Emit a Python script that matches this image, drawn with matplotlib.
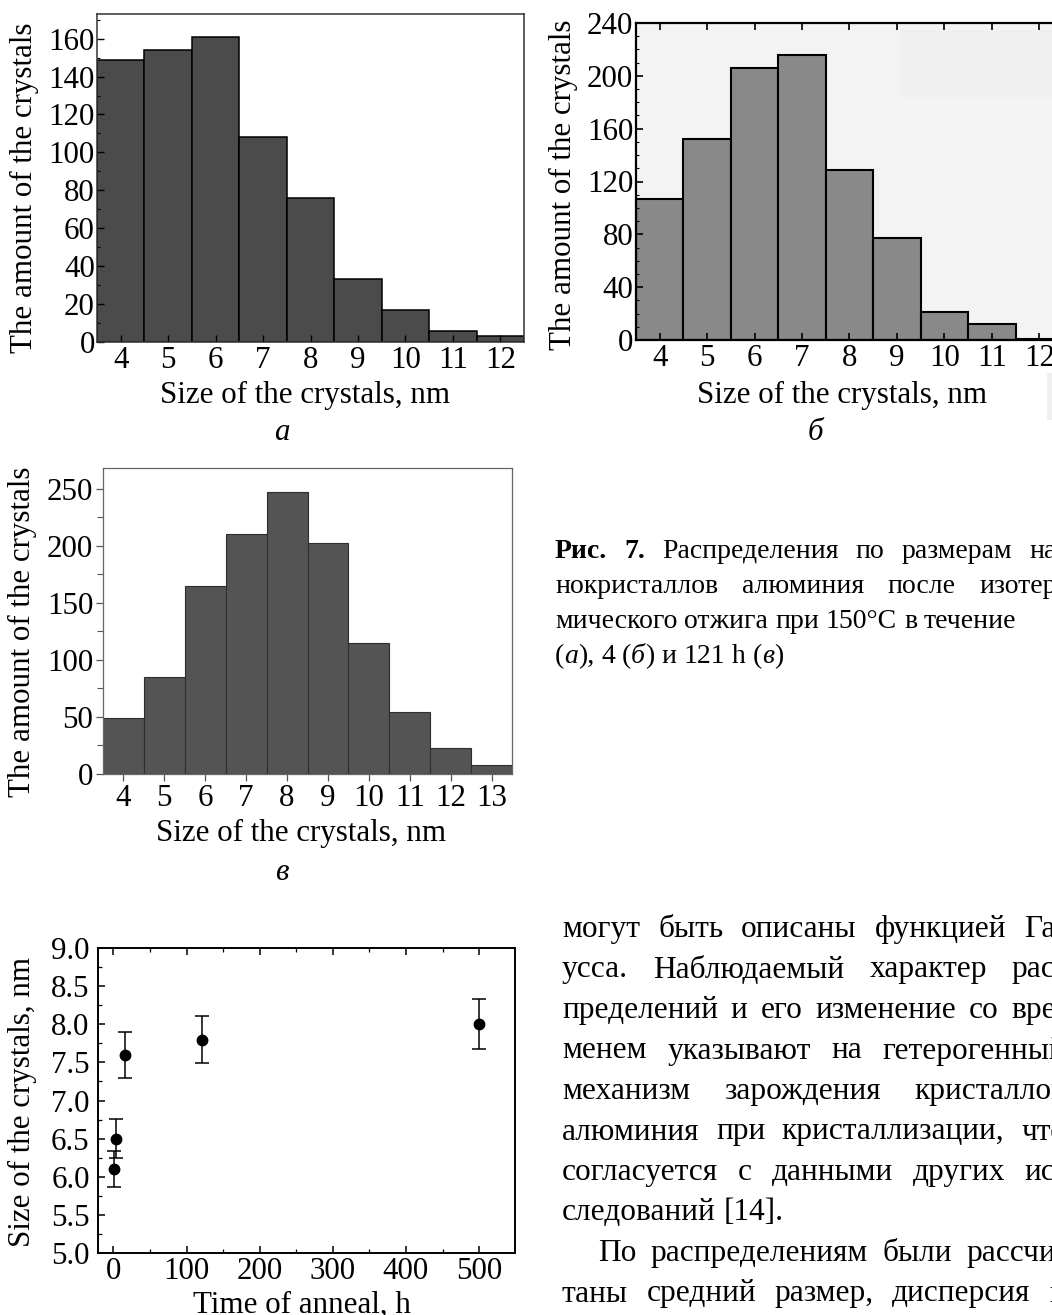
import matplotlib
matplotlib.use("Agg")
import matplotlib.pyplot as plt
from matplotlib.ticker import MultipleLocator, FormatStrFormatter
from matplotlib.patches import Rectangle

# page size in pixels
W, H = 1052, 1315

# crystal size histograms (counts per 1 nm bin)
sizes_a = [4, 5, 6, 7, 8, 9, 10, 11, 12]
counts_a = [149, 154, 161, 108, 76, 33, 17, 6, 3]

sizes_b = [4, 5, 6, 7, 8, 9, 10, 11, 12]
counts_b = [107, 152, 206, 216, 129, 77, 21, 12, 1]

sizes_c = [4, 5, 6, 7, 8, 9, 10, 11, 12, 13]
counts_c = [49, 85, 165, 210, 247, 202, 115, 54, 23, 8]

# mean crystal size vs. anneal time
anneal_time = [1, 4, 16, 121, 500]
mean_size = [6.1, 6.5, 7.6, 7.8, 8.0]
size_err = [0.24, 0.26, 0.30, 0.31, 0.33]

# text of the page
BOLD = {'weight': 'bold'}
ITAL = {'style': 'italic'}
caption_lines = [
    [[("Рис.", BOLD)], [("7.", BOLD)], "Распределения", "по", "размерам", "на-"],
    ["нокристаллов", "алюминия", "после", "изотер-"],
    ["мического", "отжига", "при", "150°С", "в", "течение"],
    [[("(", {}), ("а", ITAL), "),"], "4", [("(", {}), ("б", ITAL), ")"], "и", "121", "h",
     [("(", {}), ("в", ITAL), ")"]],
]
caption_justify = [True, True, False, False]

body_lines = [
    "могут быть описаны функцией Га-",
    "усса. Наблюдаемый характер рас-",
    "пределений и его изменение со вре-",
    "менем указывают на гетерогенный",
    "механизм зарождения кристаллов",
    "алюминия при кристаллизации, что",
    "согласуется с данными других ис-",
    "следований [14].",
    "По распределениям были рассчи-",
    "таны средний размер, дисперсия и",
]
body_justify = [True, True, True, True, True, True, True, False, True, True]

plt.rcParams['font.family'] = ['Liberation Serif', 'DejaVu Serif']

fig = plt.figure(figsize=(W / 100, H / 100), dpi=100)
fig.patch.set_facecolor('white')


def box(l, t, r, b):
    # axes from pixel edges (left, top, right, bottom)
    return fig.add_axes([l / W, 1 - b / H, (r - l) / W, (b - t) / H])


def at(x, y):
    # pixel position -> figure fraction
    return x / W, 1 - y / H


LABEL = 22.3
TICK = 22.3


def labels(ax, xlabel, ylabel, xpos, ypos):
    ax.set_xlabel(xlabel, fontsize=LABEL, va='center')
    ax.set_ylabel(ylabel, fontsize=LABEL, va='center')
    ax.xaxis.set_label_coords(*at(*xpos), transform=fig.transFigure)
    ax.yaxis.set_label_coords(*at(*ypos), transform=fig.transFigure)


# panel a
ax_a = box(97, 14, 524, 342)
ax_a.bar(sizes_a, counts_a, width=1.0, color='#4b4b4b', edgecolor='black', linewidth=1.1)
ax_a.set_xlim(3.5, 12.5)
ax_a.set_ylim(0, 173)
ax_a.set_xticks(sizes_a)
ax_a.yaxis.set_major_locator(MultipleLocator(20))
ax_a.yaxis.set_minor_locator(MultipleLocator(10))
ax_a.tick_params(direction='in', labelsize=TICK, length=5, width=1)
ax_a.tick_params(axis='x', pad=3)
ax_a.tick_params(axis='y', pad=1.5)
ax_a.tick_params(which='minor', direction='in', length=2.5, width=0.8)
for s in ax_a.spines.values():
    s.set_linewidth(1.1)
    s.set_color('#333333')
labels(ax_a, "Size of the crystals, nm", "The amount of the crystals", (305, 395), (24, 188))

# panel б (grey background, runs off the right edge of the page)
ax_b = box(636, 23, 1063, 340)
ax_b.set_facecolor('#f3f3f3')
ax_b.add_patch(Rectangle(at(900, 97), 160 / W, 67 / H, transform=fig.transFigure,
                         facecolor='#efefef', edgecolor='none', zorder=0.5))
ax_b.bar(sizes_b, counts_b, width=1.0, color='#898989', edgecolor='black', linewidth=1.5)
ax_b.set_xlim(3.5, 12.5)
ax_b.set_ylim(0, 240)
ax_b.set_xticks(sizes_b)
ax_b.yaxis.set_major_locator(MultipleLocator(40))
ax_b.yaxis.set_minor_locator(MultipleLocator(10))
ax_b.tick_params(direction='in', labelsize=TICK, length=5, width=1.2, top=True)
ax_b.tick_params(axis='x', pad=3)
ax_b.tick_params(axis='y', pad=2)
ax_b.tick_params(which='minor', direction='in', length=2.5, width=0.8)
for s in ax_b.spines.values():
    s.set_linewidth(1.6)
labels(ax_b, "Size of the crystals, nm", "The amount of the crystals", (842, 395), (563, 185))
# grey strip of the scanned page at the right edge
fig.patches.append(Rectangle(at(1047, 420), 5 / W, 47 / H, transform=fig.transFigure,
                             facecolor='#f0f0f0', edgecolor='none'))

# panel в
ax_c = box(103, 468, 512, 774)
ax_c.bar(sizes_c, counts_c, width=1.0, color='#545454', edgecolor='#2e2e2e', linewidth=0.8)
ax_c.set_xlim(3.5, 13.5)
ax_c.set_ylim(0, 268)
ax_c.set_xticks(sizes_c)
ax_c.yaxis.set_major_locator(MultipleLocator(50))
ax_c.yaxis.set_minor_locator(MultipleLocator(25))
ax_c.tick_params(direction='out', labelsize=TICK, length=5, width=0.9, color='#555555', pad=2)
ax_c.tick_params(which='minor', direction='out', length=4, width=0.8, color='#555555')
for s in ax_c.spines.values():
    s.set_linewidth(0.9)
    s.set_color('#666666')
labels(ax_c, "Size of the crystals, nm", "The amount of the crystals", (301, 833), (22, 632))

# panel letters
fig.text(*at(282, 432), "а", fontsize=LABEL, style='italic', ha='center', va='center')
fig.text(*at(815, 432), "б", fontsize=LABEL, style='italic', ha='center', va='center')
fig.text(*at(282, 872), "в", fontsize=LABEL, style='italic', ha='center', va='center')

# mean size vs. anneal time
ax_d = box(98, 948, 515, 1253)
ax_d.errorbar(anneal_time, mean_size, yerr=size_err, fmt='o', color='black', ms=7.5,
              elinewidth=1.1, capsize=4.7, capthick=1.1)
ax_d.set_xlim(-21, 549)
ax_d.set_ylim(5.0, 9.0)
ax_d.xaxis.set_major_locator(MultipleLocator(100))
ax_d.xaxis.set_minor_locator(MultipleLocator(50))
ax_d.yaxis.set_major_locator(MultipleLocator(0.5))
ax_d.yaxis.set_minor_locator(MultipleLocator(0.25))
ax_d.yaxis.set_major_formatter(FormatStrFormatter('%.1f'))
ax_d.tick_params(direction='in', labelsize=TICK, length=5, width=1.1, top=True)
ax_d.tick_params(axis='x', pad=3)
ax_d.tick_params(axis='y', pad=6)
ax_d.tick_params(which='minor', direction='in', length=3, width=0.9, top=True)
for s in ax_d.spines.values():
    s.set_linewidth(1.4)
labels(ax_d, "Time of anneal, h", "Size of the crystals, nm", (302, 1305), (22, 1102))

# text blocks, justified by hand
renderer = fig.canvas.get_renderer()


def draw_line(words, x0, y, size, x1=None):
    groups, widths = [], []
    for word in words:
        if isinstance(word, str):
            word = [(word, {})]
        parts, width = [], 0
        for piece in word:
            if isinstance(piece, str):
                piece = (piece, {})
            t = fig.text(0, 0, piece[0], fontsize=size, ha='left', va='baseline', **piece[1])
            width += t.get_window_extent(renderer).width
            parts.append(t)
        groups.append(parts)
        widths.append(width)
    gap = 0.25 * size * 100 / 72
    if x1 is not None and len(words) > 1:
        gap = (x1 - x0 - sum(widths)) / (len(words) - 1)
    x = x0
    for parts in groups:
        for t in parts:
            t.set_position(at(x, y))
            x += t.get_window_extent(renderer).width
        x += gap


CAPTION = 20.0
for i, line in enumerate(caption_lines):
    draw_line(line, 555, 558 + 35 * i, CAPTION, 1066 if caption_justify[i] else None)

BODY = 22.6
for i, line in enumerate(body_lines):
    x0 = 598 if line.startswith("По") else 562
    draw_line(line.split(), x0, 937 + 40.5 * i, BODY, 1066 if body_justify[i] else None)

fig.savefig('out.png', dpi=100)
